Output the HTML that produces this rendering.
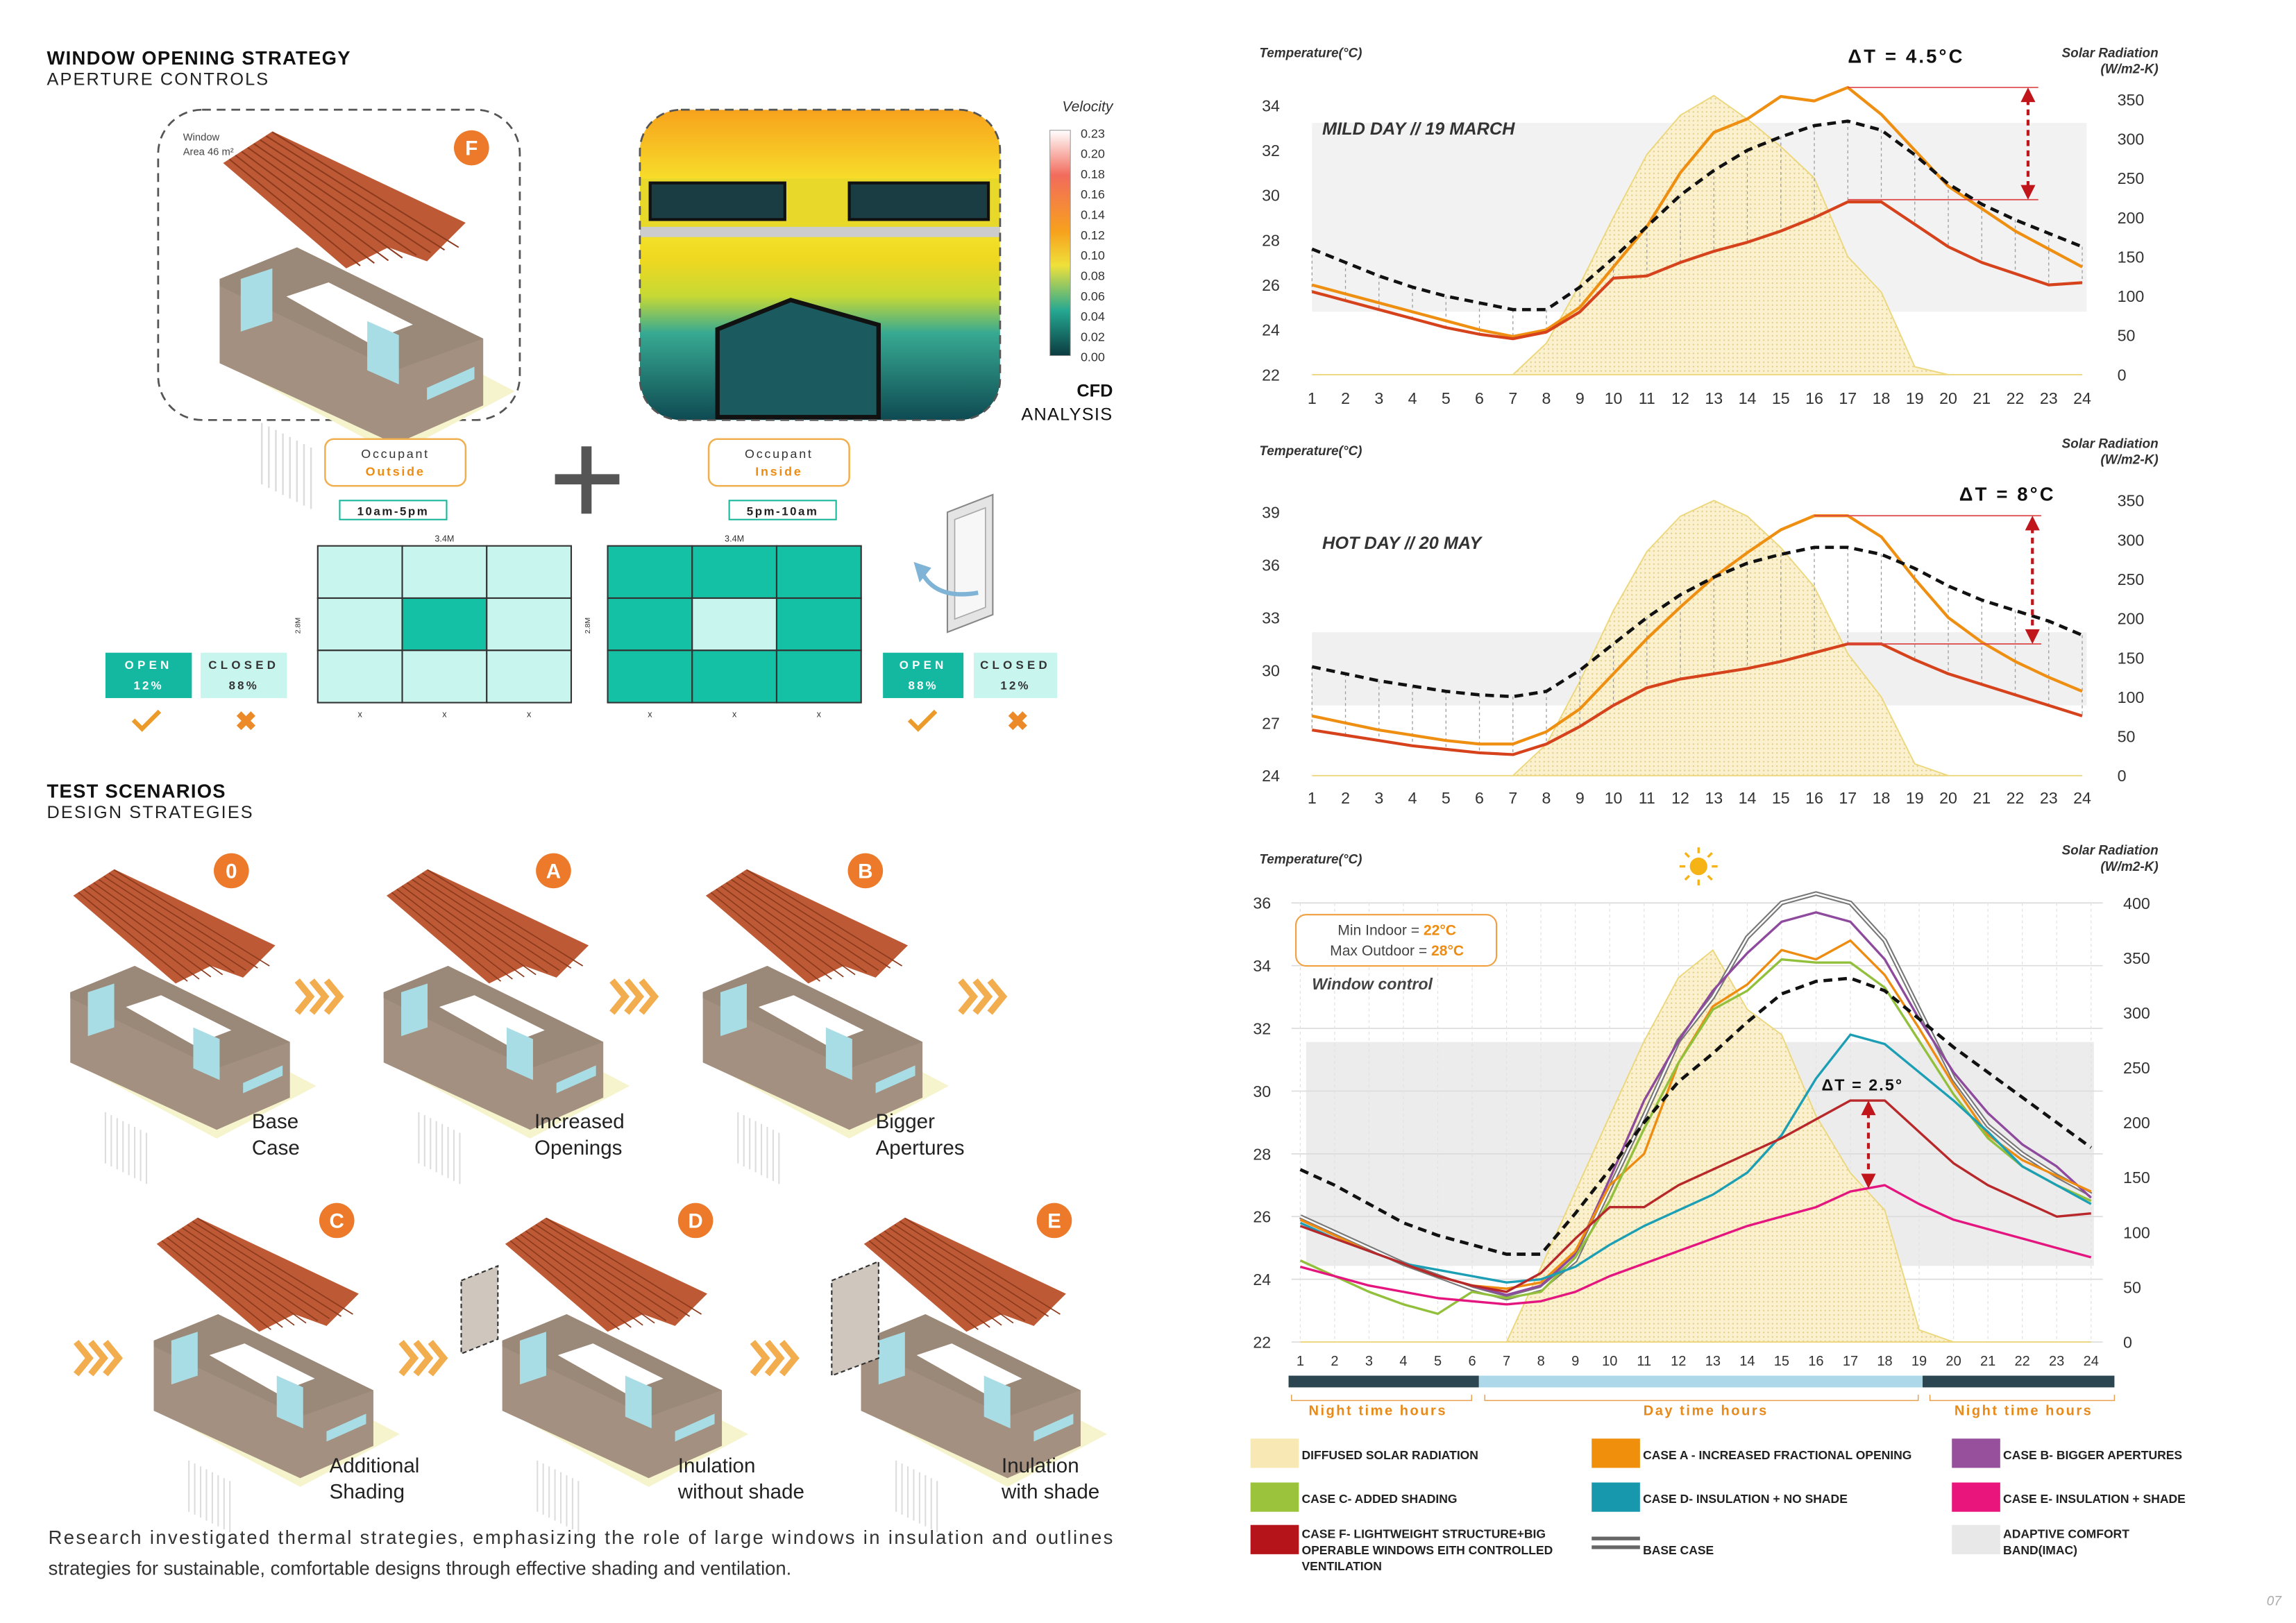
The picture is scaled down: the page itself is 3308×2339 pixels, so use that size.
<!DOCTYPE html>
<html><head><meta charset="utf-8">
<style>
html,body{margin:0;padding:0;background:#fff;}
svg{display:block;}
text{font-family:"Liberation Sans",sans-serif;}
</style></head>
<body>
<svg id="page" xmlns="http://www.w3.org/2000/svg" width="3308" height="2339" viewBox="0 0 1568 1109" preserveAspectRatio="none">
<defs>
<pattern id="dots" width="3" height="3" patternUnits="userSpaceOnUse"><rect width="3" height="3" fill="#fbf1cf"/><circle cx="1.5" cy="1.5" r="0.55" fill="#e3cf8a"/></pattern>
<linearGradient id="cfd" x1="0" y1="0" x2="0" y2="1">
<stop offset="0" stop-color="#f7a21c"/><stop offset="0.22" stop-color="#f7dc2a"/><stop offset="0.38" stop-color="#f3e42c"/>
<stop offset="0.48" stop-color="#f0d820"/><stop offset="0.6" stop-color="#c7d934"/><stop offset="0.72" stop-color="#37a992"/><stop offset="1" stop-color="#0e4a52"/></linearGradient>
<linearGradient id="cbar" x1="0" y1="0" x2="0" y2="1">
<stop offset="0" stop-color="#fff"/><stop offset="0.2" stop-color="#f26b5c"/><stop offset="0.45" stop-color="#f7a11d"/><stop offset="0.6" stop-color="#efe13a"/><stop offset="0.8" stop-color="#25a892"/><stop offset="1" stop-color="#0b3b40"/></linearGradient>
<clipPath id="cfdclip"><rect x="437" y="75" width="246" height="212" rx="28"/></clipPath>
</defs>
<g id="left"></g>
<g id="charts"></g>
</svg>
<script>
// ---------- chart data ----------
const hours = [1,2,3,4,5,6,7,8,9,10,11,12,13,14,15,16,17,18,19,20,21,22,23,24];
const c1Ticks = [22,24,26,28,30,32,34];
const c1SolarTicks = [0,50,100,150,200,250,300,350];
const c1Solar = [0,0,0,0,0,0,0,40,115,200,280,330,355,325,290,250,150,105,10,0,0,0,0,0];
const c1Outdoor = [27.6,27.0,26.4,25.9,25.5,25.2,24.9,24.9,25.9,27.2,28.6,30.0,31.1,32.0,32.6,33.1,33.3,32.9,31.8,30.5,29.6,28.9,28.3,27.7];
const c1CaseA = [26.0,25.6,25.2,24.8,24.4,24.0,23.7,24.0,25.0,26.8,28.6,31.0,32.8,33.4,34.4,34.2,34.8,33.6,32.0,30.4,29.4,28.4,27.6,26.8];
const c1CaseF = [25.7,25.3,24.9,24.5,24.1,23.8,23.6,23.9,24.8,26.3,26.4,27.0,27.5,27.9,28.4,29.0,29.7,29.7,28.7,27.7,27.0,26.5,26.0,26.1];

const c2Ticks = [24,27,30,33,36,39];
const c2SolarTicks = [0,50,100,150,200,250,300,350];
const c2Solar = [0,0,0,0,0,0,0,40,120,210,285,330,350,330,290,240,155,100,15,0,0,0,0,0];
const c2Outdoor = [30.2,29.8,29.4,29.1,28.8,28.6,28.5,28.8,30.0,31.5,33.0,34.3,35.3,36.1,36.6,37.0,37.0,36.6,35.8,34.8,34.0,33.4,32.8,32.0];
const c2CaseA = [27.4,27.0,26.6,26.3,26.0,25.8,25.8,26.5,27.8,29.8,31.8,33.6,35.3,36.7,38.0,38.8,38.8,37.6,35.2,33.0,31.6,30.5,29.6,28.8];
const c2CaseF = [26.6,26.3,26.0,25.7,25.5,25.3,25.2,25.8,26.8,28.0,29.0,29.5,29.8,30.1,30.5,31.0,31.5,31.5,30.6,29.8,29.2,28.6,28.0,27.4];

const c3Ticks = [22,24,26,28,30,32,34,36];
const c3SolarTicks = [0,50,100,150,200,250,300,350,400];
const c3Solar = [0,0,0,0,0,0,0,68,137,206,274,332,357,303,280,206,154,120,11,0,0,0,0,0];
const c3Outdoor = [27.5,27.0,26.4,25.8,25.4,25.1,24.8,24.8,26.1,27.5,29.0,30.3,31.2,32.2,33.1,33.5,33.6,33.2,32.3,31.4,30.6,29.8,29.0,28.2];
const c3Base = [26.0,25.5,25.0,24.5,24.1,23.7,23.4,23.7,24.6,26.9,29.2,31.6,33.0,34.9,36.0,36.3,36.0,34.8,32.6,30.4,28.9,28.0,27.3,26.7];
const c3CaseB = [25.9,25.4,24.9,24.5,24.1,23.8,23.5,23.8,24.8,27.2,29.7,31.6,33.2,34.4,35.4,35.7,35.4,34.2,32.3,30.6,29.3,28.3,27.6,26.6];
const c3CaseA = [25.9,25.4,24.9,24.5,24.1,23.8,23.7,23.9,24.9,27.0,28.0,30.9,32.7,33.4,34.5,34.2,34.8,33.7,32.0,30.2,28.6,27.8,27.3,26.8];
const c3CaseC = [24.6,24.1,23.6,23.2,22.9,23.6,23.4,23.6,24.7,26.5,28.8,30.9,32.6,33.2,34.2,34.1,34.1,33.3,31.6,29.9,28.5,27.6,27.0,26.5];
const c3CaseD = [25.8,25.3,24.9,24.5,24.3,24.1,23.9,24.0,24.4,25.1,25.7,26.2,26.7,27.4,28.6,30.4,31.8,31.5,30.6,29.7,28.7,27.6,27.0,26.4];
const c3CaseF = [25.7,25.3,24.9,24.5,24.1,23.8,23.6,24.2,25.3,26.3,26.3,27.0,27.5,28.0,28.5,29.1,29.7,29.7,28.7,27.7,27.0,26.5,26.0,26.1];
const c3CaseE = [24.4,24.1,23.8,23.6,23.4,23.3,23.2,23.3,23.6,24.1,24.5,24.9,25.3,25.7,26.0,26.3,26.8,27.0,26.4,25.9,25.6,25.3,25.0,24.7];

const NS = "http://www.w3.org/2000/svg";
function el(parent, tag, attrs, txt){
  const e = document.createElementNS(NS, tag);
  for (const k in attrs) e.setAttribute(k, attrs[k]);
  if (txt !== undefined) e.textContent = txt;
  parent.appendChild(e);
  return e;
}
const charts = document.getElementById('charts');

function drawChart(cfg){
  const g = el(charts, 'g', {});
  
  
  const X = h => cfg.x0 + (h - 1) * cfg.step;
  const Y = t => cfg.yb - (t - cfg.tmin) * cfg.tpx;
  const S = s => cfg.sb - s * cfg.spx;
  const band = el(g, 'rect', {x: cfg.bandX0, y: cfg.bandY0, width: cfg.bandX1 - cfg.bandX0, height: cfg.bandY1 - cfg.bandY0, fill: cfg.bandFill});
  
  
  if (cfg.grid) {
    cfg.ticks.forEach(t => { el(g, 'line', {x1: X(1) - 6, x2: X(24) + 8, y1: Y(t), y2: Y(t), stroke: '#dcdcdc', 'stroke-width': 0.8}); });
    hours.forEach(h => { el(g, 'line', {x1: X(h), x2: X(h), y1: Y(cfg.ticks[cfg.ticks.length-1]), y2: Y(cfg.tmin), stroke: '#e2e2e2', 'stroke-width': 0.6, 'stroke-dasharray': '2,2'}); });
  }
  let d = 'M' + X(1) + ',' + S(0);
  hours.forEach((h, i) => { d += ' L' + X(h) + ',' + S(cfg.solar[i]); });
  d += ' L' + X(24) + ',' + S(0) + ' Z';
  const sa = el(g, 'path', {d: d, fill: 'url(#dots)', stroke: '#ecd77c', 'stroke-width': 0.9});
  
  
  if (cfg.drops) {
    hours.forEach((h, i) => {
      const lo = Math.min(...cfg.series.map(s => s.data[i]));
      el(g, 'line', {x1: X(h), x2: X(h), y1: Y(cfg.outdoor[i]), y2: Y(lo), stroke: '#9a9a9a', 'stroke-width': 0.6, 'stroke-dasharray': '2,2'});
    });
  }
  cfg.series.forEach(s => {
    const pts = hours.map((h, i) => X(h) + ',' + Y(s.data[i])).join(' ');
    if (s.double) {
      el(g, 'polyline', {points: pts, fill: 'none', stroke: '#777', 'stroke-width': 3.2, 'stroke-linejoin': 'round'});
      const pl = el(g, 'polyline', {points: pts, fill: 'none', stroke: '#fff', 'stroke-width': 1.2, 'stroke-linejoin': 'round'});
      
      
    } else {
      const pl = el(g, 'polyline', {points: pts, fill: 'none', stroke: s.color, 'stroke-width': s.w || 1.6, 'stroke-linejoin': 'round'});
      
      
    }
  });
  const od = el(g, 'polyline', {points: hours.map((h, i) => X(h) + ',' + Y(cfg.outdoor[i])).join(' '), fill: 'none', stroke: '#111', 'stroke-width': 2.2, 'stroke-dasharray': '6,4'});
  
  
  cfg.ticks.forEach(t => {
    const tx = el(g, 'text', {x: cfg.lx, y: Y(t) + 4, 'font-size': 11, fill: '#333', 'text-anchor': 'end'}, String(t));
    
    
  });
  cfg.sticks.forEach(s => {
    const tx = el(g, 'text', {x: cfg.rx, y: S(s) + 4, 'font-size': 11, fill: '#333'}, String(s));
    
    
  });
  hours.forEach(h => {
    const tx = el(g, 'text', {x: X(h), y: cfg.hy, 'font-size': cfg.hfs || 11, fill: '#333', 'text-anchor': 'middle'}, String(h));
    
    
  });
  return {X, Y, S, g};
}

const C1 = drawChart({name: 'mild-day-chart', x0: 896, step: 22.87, yb: 256, tmin: 22, tpx: 15.33, sb: 256, spx: 188/350,
  bandX0: 896, bandX1: 1425, bandY0: 84, bandY1: 213, bandFill: '#f2f2f2', solar: c1Solar, outdoor: c1Outdoor, ticks: c1Ticks, sticks: c1SolarTicks,
  lx: 874, rx: 1446, hy: 276, drops: true,
  series: [{name: 'case-a-line', data: c1CaseA, color: '#ef8f12', w: 2}, {name: 'case-f-line', data: c1CaseF, color: '#d5421b', w: 2}]});
const C2 = drawChart({name: 'hot-day-chart', x0: 896, step: 22.87, yb: 530, tmin: 24, tpx: 12, sb: 530, spx: 188/350,
  bandX0: 896, bandX1: 1425, bandY0: 432, bandY1: 482, bandFill: '#f0f0f0', solar: c2Solar, outdoor: c2Outdoor, ticks: c2Ticks, sticks: c2SolarTicks,
  lx: 874, rx: 1446, hy: 549, drops: true,
  series: [{name: 'case-a-line', data: c2CaseA, color: '#ef8f12', w: 2}, {name: 'case-f-line', data: c2CaseF, color: '#d5421b', w: 2}]});
const C3 = drawChart({name: 'window-control-chart', x0: 888, step: 23.48, yb: 917, tmin: 22, tpx: 21.43, sb: 917, spx: 300/400,
  bandX0: 892, bandX1: 1430, bandY0: 712, bandY1: 865, bandFill: '#ececec', solar: c3Solar, outdoor: c3Outdoor, ticks: c3Ticks, sticks: c3SolarTicks,
  lx: 868, rx: 1450, hy: 933, hfs: 9.5, grid: true, drops: false,
  series: [{name: 'base-case-line', data: c3Base, double: true},
    {name: 'case-b-line', data: c3CaseB, color: '#8e4a9c'},
    {name: 'case-a-line', data: c3CaseA, color: '#ee8c12'},
    {name: 'case-c-line', data: c3CaseC, color: '#92c03c'},
    {name: 'case-d-line', data: c3CaseD, color: '#1c9fb4'},
    {name: 'case-f-line', data: c3CaseF, color: '#b8282a'},
    {name: 'case-e-line', data: c3CaseE, color: '#e4157f'}]});

function arrow(x, y1, y2, name){
  const g = el(charts, 'g', {});
  
  
  el(g, 'line', {x1: x, x2: x, y1: y1 + 8, y2: y2 - 8, stroke: '#c0151b', 'stroke-width': 2, 'stroke-dasharray': '4,3'});
  el(g, 'polygon', {points: `${x-5},${y1+10} ${x+5},${y1+10} ${x},${y1}`, fill: '#c0151b'});
  el(g, 'polygon', {points: `${x-5},${y2-10} ${x+5},${y2-10} ${x},${y2}`, fill: '#c0151b'});
}
el(charts, 'line', {x1: C1.X(17), x2: 1392, y1: C1.Y(34.8), y2: C1.Y(34.8), stroke: '#d44', 'stroke-width': 0.8});
el(charts, 'line', {x1: C1.X(17), x2: 1392, y1: C1.Y(29.8), y2: C1.Y(29.8), stroke: '#d44', 'stroke-width': 0.8});
arrow(1385, C1.Y(34.8), C1.Y(29.8), 'delta-t-arrow');
el(charts, 'line', {x1: C2.X(16), x2: 1394, y1: C2.Y(38.8), y2: C2.Y(38.8), stroke: '#d44', 'stroke-width': 0.8});
el(charts, 'line', {x1: C2.X(17), x2: 1394, y1: C2.Y(31.5), y2: C2.Y(31.5), stroke: '#d44', 'stroke-width': 0.8});
arrow(1388, C2.Y(38.8), C2.Y(31.5), 'delta-t-arrow');
arrow(1276, C3.Y(29.7), C3.Y(26.9), 'delta-t-arrow');
</script>

<script>
(function(){
const NS = "http://www.w3.org/2000/svg";
const charts = document.getElementById('charts');
function t(x, y, s, opts, name){
  const e = document.createElementNS(NS, 'text');
  e.setAttribute('x', x); e.setAttribute('y', y);
  for (const k in (opts||{})) e.setAttribute(k, opts[k]);
  e.textContent = s;
  
  
  charts.appendChild(e);
  return e;
}
function r(x, y, w, h, fill, name, extra){
  const e = document.createElementNS(NS, 'rect');
  e.setAttribute('x', x); e.setAttribute('y', y); e.setAttribute('width', w); e.setAttribute('height', h); e.setAttribute('fill', fill);
  for (const k in (extra||{})) e.setAttribute(k, extra[k]);
  
  
  charts.appendChild(e);
  return e;
}
const it = {'font-size': 9, 'font-style': 'italic', 'font-weight': 'bold', fill: '#333'};
const itR = {'font-size': 9, 'font-style': 'italic', 'font-weight': 'bold', fill: '#333', 'text-anchor': 'end'};
[[39, 39, 50], [311, 306, 317], [590, 584, 595]].forEach(a => {
  t(860, a[0], 'Temperature(°C)', it, 'y-axis-title');
  t(1474, a[1], 'Solar Radiation', itR, 'solar-axis-title');
  t(1474, a[2], '(W/m2-K)', itR, 'solar-axis-title');
});
t(903, 92, 'MILD DAY // 19 MARCH', {'font-size': 12, 'font-style': 'italic', 'font-weight': 'bold', fill: '#333'}, 'chart-title');
t(903, 375, 'HOT DAY // 20 MAY', {'font-size': 12, 'font-style': 'italic', 'font-weight': 'bold', fill: '#333'}, 'chart-title');
t(1262, 43, 'ΔT = 4.5°C', {'font-size': 13, 'font-weight': 'bold', fill: '#111', 'letter-spacing': '1.5'}, 'delta-t-label');
t(1338, 342, 'ΔT = 8°C', {'font-size': 13, 'font-weight': 'bold', fill: '#111', 'letter-spacing': '1.5'}, 'delta-t-label');
t(1244, 745, 'ΔT = 2.5°', {'font-size': 11, 'font-weight': 'bold', fill: '#111', 'letter-spacing': '1'}, 'delta-t-label');
r(885, 625, 137, 35, '#fff', 'comfort-note-box', {rx: 7, stroke: '#f0a040', 'stroke-width': 1});
const a = t(954, 639, 'Min Indoor = ', {'font-size': 10, fill: '#444', 'text-anchor': 'middle'}, 'min-indoor-note');
const ts = document.createElementNS(NS, 'tspan'); ts.setAttribute('fill', '#ee8c12'); ts.setAttribute('font-weight', 'bold'); ts.textContent = '22°C'; a.appendChild(ts);
const b = t(954, 653, 'Max Outdoor = ', {'font-size': 10, fill: '#444', 'text-anchor': 'middle'}, 'max-outdoor-note');
const ts2 = document.createElementNS(NS, 'tspan'); ts2.setAttribute('fill', '#ee8c12'); ts2.setAttribute('font-weight', 'bold'); ts2.textContent = '28°C'; b.appendChild(ts2);
t(896, 676, 'Window control', {'font-size': 11, 'font-style': 'italic', 'font-weight': 'bold', fill: '#444'}, 'chart-subtitle');
const sun = document.createElementNS(NS, 'g');  
sun.innerHTML = '<circle cx="1160" cy="592" r="6" fill="#f5b316"/>' + [0,45,90,135,180,225,270,315].map(d => { const rr = d*Math.PI/180; return `<line x1="${1160+9*Math.cos(rr)}" y1="${592+9*Math.sin(rr)}" x2="${1160+13*Math.cos(rr)}" y2="${592+13*Math.sin(rr)}" stroke="#f5b316" stroke-width="1.6"/>`; }).join('');
charts.appendChild(sun);
r(880, 940, 130, 8, '#2b4650', 'night-hours-bar');
r(1010, 940, 303, 8, '#acd8ea', 'day-hours-bar');
r(1313, 940, 131, 8, '#2b4650', 'night-hours-bar');
const bo = {'font-size': 9.5, 'font-weight': 'bold', fill: '#e88a1a', 'text-anchor': 'middle', 'letter-spacing': '1.2'};
t(941, 967, 'Night time hours', bo, 'night-time-label');
t(1165, 967, 'Day time hours', bo, 'day-time-label');
t(1382, 967, 'Night time hours', bo, 'night-time-label');
[[882,1005],[1014,1310],[1318,1444]].forEach(s => {
  const p = document.createElementNS(NS, 'path');
  p.setAttribute('d', `M${s[0]},953 V957 H${s[1]} V953`);
  p.setAttribute('stroke', '#e8a050'); p.setAttribute('fill', 'none'); p.setAttribute('stroke-width', 0.7);
   
  charts.appendChild(p);
});
const lg = {'font-size': 8.3, 'font-weight': 'bold', fill: '#222'};
const items = [
 [854, 983, '#f8e8b4', ['DIFFUSED SOLAR RADIATION']],
 [854, 1013, '#9bc43c', ['CASE C- ADDED SHADING']],
 [854, 1042, '#b4141a', ['CASE F- LIGHTWEIGHT STRUCTURE+BIG', 'OPERABLE WINDOWS EITH CONTROLLED', 'VENTILATION']],
 [1087, 983, '#ef8f0c', ['CASE A - INCREASED FRACTIONAL OPENING']],
 [1087, 1013, '#1898ad', ['CASE D- INSULATION + NO SHADE']],
 [1333, 983, '#96509c', ['CASE B- BIGGER APERTURES']],
 [1333, 1013, '#ea157c', ['CASE E- INSULATION + SHADE']],
 [1333, 1042, '#e8e8e8', ['ADAPTIVE COMFORT', 'BAND(IMAC)']]
];
items.forEach(i => {
  r(i[0], i[1], 33, 20, i[2], 'legend-swatch');
  i[3].forEach((s, k) => t(i[0] + 35, (i[3].length === 1 ? i[1] + 14 : i[1] + 9 + k * 11), s, lg, 'legend-entry'));
});
r(1087, 1050, 33, 2.5, '#666', 'legend-swatch');
r(1087, 1056, 33, 2.5, '#666', 'legend-swatch');
t(1122, 1062, 'BASE CASE', lg, 'legend-entry');
t(1558, 1097, '07', {'font-size': 9, 'font-style': 'italic', fill: '#aaa', 'text-anchor': 'end'}, 'page-number');
})();
</script>

<script>
(function(){
const NS = "http://www.w3.org/2000/svg";
const L = document.getElementById('left');
function add(tag, attrs, txt, name, parent){
  const e = document.createElementNS(NS, tag);
  for (const k in attrs) e.setAttribute(k, attrs[k]);
  if (txt !== undefined && txt !== null) e.textContent = txt;
  
  
  (parent || L).appendChild(e);
  return e;
}
const H = {'font-size': 13, 'font-weight': 'bold', fill: '#111', 'letter-spacing': '0.6'};
const SH = {'font-size': 12, fill: '#222', 'letter-spacing': '1'};
add('text', Object.assign({x: 32, y: 44}, H), 'WINDOW OPENING STRATEGY', 'section-title');
add('text', Object.assign({x: 32, y: 58}, SH), 'APERTURE CONTROLS', 'section-subtitle');
add('text', Object.assign({x: 32, y: 545}, H), 'TEST SCENARIOS', 'section-title');
add('text', Object.assign({x: 32, y: 559}, SH), 'DESIGN STRATEGIES', 'section-subtitle');

function house(ox, oy, s, name){
  const g = add('g', {transform: `translate(${ox},${oy}) scale(${s})`}, null, name);
  add('polygon', {points: '10,140 100,188 168,152 78,105', fill: '#f6f4cc'}, null, 'ground', g);
  for (let i = 0; i < 8; i++) add('line', {x1: 24 + i*4, y1: 170 + i*2, x2: 24 + i*4, y2: 205 + i*2, stroke: '#ddd', 'stroke-width': 1}, null, 'post', g);
  add('polygon', {points: '0,88 44,70 150,122 150,160 100,182 0,136', fill: '#a39080'}, null, 'walls', g);
  add('polygon', {points: '0,88 44,70 150,122 100,140 0,92', fill: '#9a8878'}, null, 'wall-top', g);
  add('polygon', {points: '38,98 62,90 110,114 84,124', fill: '#fff'}, null, 'courtyard', g);
  add('polygon', {points: '12,88 30,82 30,112 12,118', fill: '#a9dde6'}, null, 'window', g);
  add('polygon', {points: '84,112 102,120 102,148 84,140', fill: '#a9dde6'}, null, 'window', g);
  add('polygon', {points: '118,150 145,138 145,145 118,157', fill: '#a9dde6'}, null, 'window', g);
  add('polygon', {points: '2,22 30,4 140,56 118,78 96,70 72,82', fill: '#bd5a35'}, null, 'roof', g);
  for (let i = 1; i < 9; i++) add('line', {x1: 2 + i*3.5, y1: 22 - i*2.2, x2: 72 + i*8, y2: 82 - i*1.5, stroke: '#8c3a1e', 'stroke-width': 0.8}, null, 'roof-line', g);
  return g;
}
function badge(x, y, s, name){
  add('circle', {cx: x, cy: y, r: 12, fill: '#ec7a2a'}, null, name);
  add('text', {x: x, y: y + 5, 'font-size': 14, 'font-weight': 'bold', fill: '#fff', 'text-anchor': 'middle'}, s, name + '-label');
}
function chev(x, y, name){
  const g = add('g', {}, null, name);
  for (let i = 0; i < 3; i++) add('polyline', {points: `${x + i*10},${y-11} ${x + i*10 + 9},${y} ${x + i*10},${y+11}`, fill: 'none', stroke: '#f2ad4e', 'stroke-width': 4.5}, null, 'chevron', g);
}
function lbl(x, y, a, b, name){
  add('text', {x: x, y: y, 'font-size': 14, fill: '#222'}, a, name);
  add('text', {x: x, y: y + 18, 'font-size': 14, fill: '#222'}, b, name);
}
add('rect', {x: 108, y: 75, width: 247, height: 212, rx: 30, fill: 'none', stroke: '#555', 'stroke-width': 1.3, 'stroke-dasharray': '6,4'}, null, 'house-f-frame');
house(150, 85, 1.2, 'house-f-illustration');
badge(322, 101, 'F', 'badge-f');
add('text', {x: 125, y: 96, 'font-size': 7, fill: '#444'}, 'Window', 'window-area-label');
add('text', {x: 125, y: 106, 'font-size': 7, fill: '#444'}, 'Area 46 m²', 'window-area-value');
const cf = add('g', {'clip-path': 'url(#cfdclip)'}, null, 'cfd-image');
add('rect', {x: 437, y: 75, width: 246, height: 212, fill: 'url(#cfd)'}, null, 'cfd-field', cf);
add('rect', {x: 437, y: 122, width: 246, height: 33, fill: '#e8d82a'}, null, 'cfd-band', cf);
add('rect', {x: 444, y: 125, width: 92, height: 25, fill: '#1a3d44', stroke: '#111', 'stroke-width': 2}, null, 'cfd-window', cf);
add('rect', {x: 580, y: 125, width: 95, height: 25, fill: '#1a3d44', stroke: '#111', 'stroke-width': 2}, null, 'cfd-window', cf);
add('rect', {x: 437, y: 155, width: 246, height: 7, fill: '#ccc'}, null, 'cfd-slab', cf);
add('polygon', {points: '490,225 540,205 600,222 600,285 490,285', fill: '#1b5b60', stroke: '#111', 'stroke-width': 3}, null, 'cfd-house', cf);
add('rect', {x: 437, y: 75, width: 246, height: 212, rx: 28, fill: 'none', stroke: '#555', 'stroke-width': 1.3, 'stroke-dasharray': '6,4'}, null, 'cfd-frame');
add('text', {x: 760, y: 76, 'font-size': 10, 'font-style': 'italic', fill: '#333', 'text-anchor': 'end'}, 'Velocity', 'colorbar-title');
add('rect', {x: 717, y: 89, width: 14, height: 154, fill: 'url(#cbar)', stroke: '#999', 'stroke-width': 0.5}, null, 'colorbar');
['0.23','0.20','0.18','0.16','0.14','0.12','0.10','0.08','0.06','0.04','0.02','0.00'].forEach((v, i) => add('text', {x: 738, y: 94 + i*13.9, 'font-size': 8.5, fill: '#333'}, v, 'colorbar-tick'));
add('text', {x: 760, y: 271, 'font-size': 12, 'font-weight': 'bold', fill: '#111', 'text-anchor': 'end'}, 'CFD', 'cfd-title');
add('text', {x: 760, y: 287, 'font-size': 12, fill: '#111', 'text-anchor': 'end', 'letter-spacing': '0.6'}, 'ANALYSIS', 'cfd-subtitle');
[[222, 'Outside', 232, '10am-5pm'], [484, 'Inside', 498, '5pm-10am']].forEach(o => {
  add('rect', {x: o[0], y: 300, width: 96, height: 32, rx: 6, fill: '#fff', stroke: '#f0b050', 'stroke-width': 1.2}, null, 'occupant-box');
  add('text', {x: o[0] + 48, y: 313, 'font-size': 8.5, fill: '#333', 'text-anchor': 'middle', 'letter-spacing': '1.3'}, 'Occupant', 'occupant-label');
  add('text', {x: o[0] + 48, y: 325, 'font-size': 8.5, 'font-weight': 'bold', fill: '#ee8c12', 'text-anchor': 'middle', 'letter-spacing': '1.3'}, o[1], 'occupant-state');
  add('rect', {x: o[2], y: 342, width: 73, height: 13, fill: '#fff', stroke: '#1ab79c', 'stroke-width': 1}, null, 'time-box');
  add('text', {x: o[2] + 36.5, y: 352, 'font-size': 8, 'font-weight': 'bold', fill: '#222', 'text-anchor': 'middle', 'letter-spacing': '1.2'}, o[3], 'time-label');
});
add('rect', {x: 379, y: 324, width: 44, height: 7, fill: '#555'}, null, 'plus-sign');
add('rect', {x: 397, y: 305, width: 7, height: 46, fill: '#555'}, null, 'plus-sign');
function grid(x, y, pattern, name){
  const g = add('g', {}, null, name);
  const w = 57.7, h = 35.7;
  for (let rr = 0; rr < 3; rr++) for (let c = 0; c < 3; c++) {
    add('rect', {x: x + c*w, y: y + rr*h, width: w, height: h, fill: pattern[rr*3+c] ? '#14c1a4' : '#c9f5ef', stroke: '#333', 'stroke-width': 1}, null, 'grid-cell', g);
  }
  add('text', {x: x + w*1.5, y: y - 3, 'font-size': 6, fill: '#333', 'text-anchor': 'middle'}, '3.4M', 'grid-width', g);
  add('text', {x: x - 12, y: y + 60, 'font-size': 5, fill: '#333', transform: `rotate(-90 ${x-12} ${y+60})`}, '2.8M', 'grid-height', g);
  for (let c = 0; c < 3; c++) add('text', {x: x + c*w + w/2, y: y + 3*h + 10, 'font-size': 6, fill: '#333', 'text-anchor': 'middle'}, 'x', 'grid-x', g);
}
grid(217, 373, [0,0,0,0,1,0,0,0,0], 'outside-grid');
grid(415, 373, [1,1,1,1,0,1,1,1,1], 'inside-grid');
function ocbox(x, w, fill, l1, l2, dark){
  add('rect', {x: x, y: 446, width: w, height: 31, fill: fill}, null, 'status-box');
  add('text', {x: x + w/2, y: 457, 'font-size': 8, 'font-weight': 'bold', fill: dark ? '#fff' : '#333', 'text-anchor': 'middle', 'letter-spacing': '2.5'}, l1, 'status-label');
  add('text', {x: x + w/2, y: 471, 'font-size': 8, 'font-weight': 'bold', fill: dark ? '#fff' : '#333', 'text-anchor': 'middle', 'letter-spacing': '1.5'}, l2, 'status-value');
}
ocbox(72, 59, '#14b7a0', 'OPEN', '12%', true);
ocbox(137, 59, '#c9f5ef', 'CLOSED', '88%', false);
ocbox(603, 55, '#14b7a0', 'OPEN', '88%', true);
ocbox(665, 57, '#c9f5ef', 'CLOSED', '12%', false);
[[100], [630]].forEach(c => add('polyline', {points: `${c[0]-9},492 ${c[0]-3},498 ${c[0]+9},486`, fill: 'none', stroke: '#ec9a2a', 'stroke-width': 3}, null, 'check-icon'));
[[168], [695]].forEach(c => add('text', {x: c[0], y: 499, 'font-size': 18, 'font-weight': 'bold', fill: '#ec8a2a', 'text-anchor': 'middle'}, '✖', 'cross-icon'));
add('polygon', {points: '647,350 678,338 678,420 647,432', fill: '#e4e4e4', stroke: '#888', 'stroke-width': 1}, null, 'window-icon');
add('polygon', {points: '652,355 673,347 673,415 652,423', fill: '#f7f7f7', stroke: '#aaa', 'stroke-width': 0.8}, null, 'window-pane');
add('path', {d: 'M630,392 Q640,410 668,405', fill: 'none', stroke: '#7fb4d6', 'stroke-width': 3}, null, 'airflow-arrow');
add('polygon', {points: '624,384 636,388 628,398', fill: '#7fb4d6'}, null, 'airflow-arrowhead');
house(48, 590, 1, 'house-base-case'); badge(158, 595, '0', 'badge-0');
house(262, 590, 1, 'house-case-a'); badge(378, 595, 'A', 'badge-a');
house(480, 590, 1, 'house-case-b'); badge(591, 595, 'B', 'badge-b');
chev(203, 681, 'arrow-chevrons'); chev(418, 681, 'arrow-chevrons'); chev(656, 681, 'arrow-chevrons');
lbl(172, 771, 'Base', 'Case', 'scenario-label');
lbl(365, 771, 'Increased', 'Openings', 'scenario-label');
lbl(598, 771, 'Bigger', 'Apertures', 'scenario-label');
house(105, 828, 1, 'house-case-c'); badge(230, 834, 'C', 'badge-c');
house(343, 828, 1, 'house-case-d'); badge(475, 834, 'D', 'badge-d');
house(588, 828, 1, 'house-case-e'); badge(720, 834, 'E', 'badge-e');
chev(52, 928, 'arrow-chevrons'); chev(274, 928, 'arrow-chevrons'); chev(514, 928, 'arrow-chevrons');
add('polygon', {points: '315,875 340,865 340,915 315,925', fill: '#cfc6bd', stroke: '#333', 'stroke-width': 1, 'stroke-dasharray': '3,2'}, null, 'shade-panel');
add('polygon', {points: '568,875 600,862 600,928 568,940', fill: '#cfc6bd', stroke: '#333', 'stroke-width': 1, 'stroke-dasharray': '3,2'}, null, 'shade-panel');
lbl(225, 1006, 'Additional', 'Shading', 'scenario-label');
lbl(463, 1006, 'Inulation', 'without shade', 'scenario-label');
lbl(684, 1006, 'Inulation', 'with shade', 'scenario-label');
add('text', {x: 33, y: 1055, 'font-size': 13, fill: '#333', textLength: 727, lengthAdjust: 'spacing'}, 'Research investigated thermal strategies, emphasizing the role of large windows in insulation and outlines', 'description-text');
add('text', {x: 33, y: 1076, 'font-size': 13, fill: '#333'}, 'strategies for sustainable, comfortable designs through effective shading and ventilation.', 'description-text');
})();
</script>
</body></html>
